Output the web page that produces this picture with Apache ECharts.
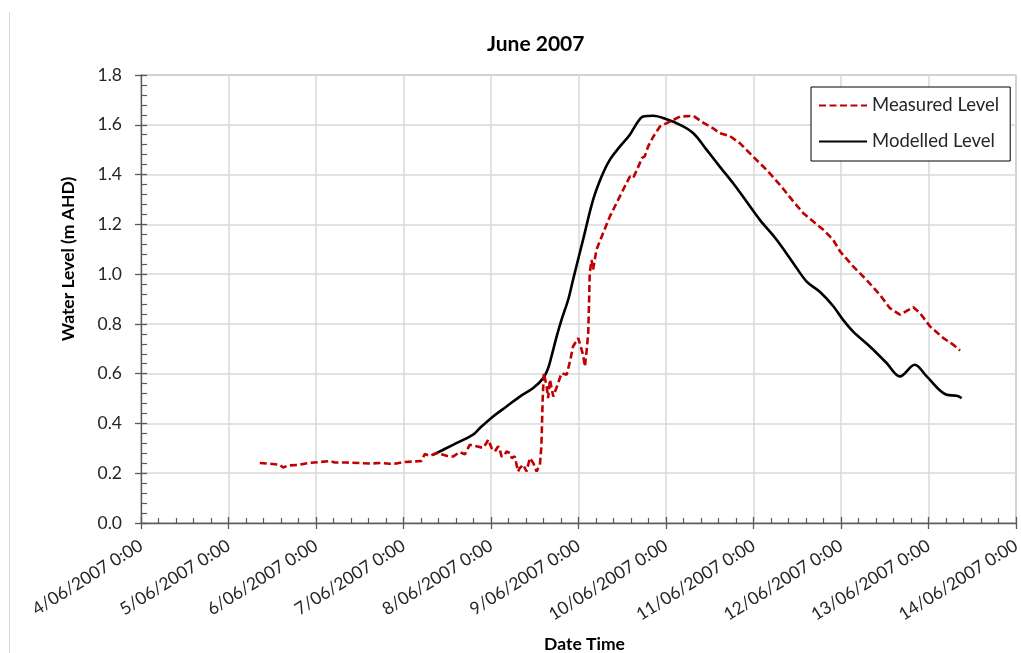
<!DOCTYPE html>
<html>
<head>
<meta charset="utf-8">
<title>June 2007</title>
<script src="https://cdn.jsdelivr.net/npm/echarts@6/dist/echarts.min.js"></script>
<style>
  html, body { margin: 0; padding: 0; background: #fff; }
  #chart { width: 1021px; height: 653px; }
</style>
</head>
<body>
<div id="chart"></div>
<script>
// Gauge record, June 2007 flood event
const chartTitle = 'June 2007';
const seriesNames = ['Measured Level', 'Modelled Level'];

// Measured water level (m AHD), logged times
const measuredTimes = [
  '2007-06-05 08:35', '2007-06-05 11:20', '2007-06-05 14:00', '2007-06-05 15:00', '2007-06-05 16:20',
  '2007-06-05 19:30', '2007-06-05 21:50', '2007-06-06 01:00', '2007-06-06 03:45', '2007-06-06 05:10',
  '2007-06-06 08:20', '2007-06-06 12:00', '2007-06-06 14:45', '2007-06-06 17:30', '2007-06-06 20:15',
  '2007-06-06 22:05', '2007-06-06 23:55', '2007-06-07 02:40', '2007-06-07 04:55', '2007-06-07 05:50',
  '2007-06-07 07:15', '2007-06-07 09:05', '2007-06-07 11:50', '2007-06-07 13:35', '2007-06-07 15:25',
  '2007-06-07 16:50', '2007-06-07 18:10', '2007-06-07 20:00', '2007-06-07 21:50', '2007-06-07 22:45',
  '2007-06-07 23:15', '2007-06-07 23:40', '2007-06-08 00:10', '2007-06-08 00:35', '2007-06-08 01:05',
  '2007-06-08 02:00', '2007-06-08 02:25', '2007-06-08 02:55', '2007-06-08 03:50', '2007-06-08 04:15',
  '2007-06-08 05:10', '2007-06-08 05:40', '2007-06-08 06:05', '2007-06-08 06:30', '2007-06-08 07:25',
  '2007-06-08 07:55', '2007-06-08 08:50', '2007-06-08 09:15', '2007-06-08 09:45', '2007-06-08 10:40',
  '2007-06-08 11:05', '2007-06-08 11:35', '2007-06-08 12:00', '2007-06-08 12:30', '2007-06-08 12:55',
  '2007-06-08 13:25', '2007-06-08 13:50', '2007-06-08 14:10', '2007-06-08 14:30', '2007-06-08 15:15',
  '2007-06-08 15:40', '2007-06-08 16:10', '2007-06-08 17:05', '2007-06-08 18:25', '2007-06-08 19:20',
  '2007-06-08 20:45', '2007-06-08 21:40', '2007-06-08 22:30', '2007-06-08 23:55', '2007-06-09 00:20',
  '2007-06-09 01:15', '2007-06-09 01:45', '2007-06-09 02:15', '2007-06-09 02:40', '2007-06-09 02:55',
  '2007-06-09 03:05', '2007-06-09 03:35', '2007-06-09 04:00', '2007-06-09 04:55', '2007-06-09 06:45',
  '2007-06-09 08:35', '2007-06-09 10:25', '2007-06-09 12:15', '2007-06-09 14:05', '2007-06-09 15:00',
  '2007-06-09 16:50', '2007-06-09 17:20', '2007-06-09 18:10', '2007-06-09 19:05', '2007-06-09 20:30',
  '2007-06-09 22:20', '2007-06-10 01:05', '2007-06-10 03:50', '2007-06-10 07:30', '2007-06-10 10:10',
  '2007-06-10 12:55', '2007-06-10 14:45', '2007-06-10 17:30', '2007-06-10 20:15', '2007-06-10 23:55',
  '2007-06-11 03:35', '2007-06-11 07:15', '2007-06-11 10:55', '2007-06-11 13:40', '2007-06-11 16:25',
  '2007-06-11 19:10', '2007-06-11 21:50', '2007-06-11 23:45', '2007-06-12 03:20', '2007-06-12 07:00',
  '2007-06-12 10:40', '2007-06-12 13:25', '2007-06-12 16:10', '2007-06-12 19:50', '2007-06-12 21:40',
  '2007-06-13 00:25', '2007-06-13 04:05', '2007-06-13 06:50', '2007-06-13 08:40'
];
const measuredLevels = [
  0.241, 0.238, 0.234, 0.223, 0.231,
  0.234, 0.241, 0.245, 0.249, 0.243,
  0.243, 0.241, 0.239, 0.241, 0.238,
  0.239, 0.245, 0.247, 0.249, 0.277,
  0.270, 0.281, 0.270, 0.267, 0.285,
  0.276, 0.314, 0.308, 0.302, 0.321,
  0.335, 0.341, 0.301, 0.294, 0.288,
  0.308, 0.294, 0.267, 0.274, 0.288,
  0.281, 0.261, 0.254, 0.268, 0.207,
  0.221, 0.234, 0.241, 0.207, 0.261,
  0.267, 0.241, 0.227, 0.207, 0.214,
  0.234, 0.310, 0.495, 0.602, 0.549,
  0.502, 0.576, 0.508, 0.562, 0.602,
  0.596, 0.649, 0.709, 0.743, 0.723,
  0.676, 0.629, 0.696, 0.763, 0.900,
  1.004, 1.057, 1.018, 1.098, 1.165,
  1.231, 1.285, 1.339, 1.392, 1.386,
  1.446, 1.466, 1.473, 1.512, 1.552,
  1.593, 1.613, 1.633, 1.636, 1.609,
  1.586, 1.566, 1.555, 1.526, 1.472,
  1.419, 1.359, 1.292, 1.245, 1.211,
  1.178, 1.138, 1.091, 1.031, 0.977,
  0.917, 0.863, 0.837, 0.867, 0.843,
  0.790, 0.743, 0.716, 0.693
];

// Modelled water level (m AHD), model output times
const modelledTimes = [
  '2007-06-07 08:05', '2007-06-07 13:35', '2007-06-07 19:05', '2007-06-07 20:55', '2007-06-08 00:35',
  '2007-06-08 04:15', '2007-06-08 07:55', '2007-06-08 11:35', '2007-06-08 14:20', '2007-06-08 15:40',
  '2007-06-08 16:35', '2007-06-08 18:00', '2007-06-08 19:20', '2007-06-08 21:10', '2007-06-08 22:30',
  '2007-06-09 01:15', '2007-06-09 04:00', '2007-06-09 06:20', '2007-06-09 08:35', '2007-06-09 11:20',
  '2007-06-09 14:05', '2007-06-09 16:20', '2007-06-09 17:45', '2007-06-09 20:30', '2007-06-10 00:10',
  '2007-06-10 03:50', '2007-06-10 07:30', '2007-06-10 11:10', '2007-06-10 14:45', '2007-06-10 18:25',
  '2007-06-10 22:05', '2007-06-11 01:45', '2007-06-11 06:20', '2007-06-11 10:55', '2007-06-11 14:35',
  '2007-06-11 18:15', '2007-06-11 21:50', '2007-06-12 00:35', '2007-06-12 03:20', '2007-06-12 07:55',
  '2007-06-12 12:30', '2007-06-12 16:10', '2007-06-12 20:15', '2007-06-12 23:30', '2007-06-13 05:00',
  '2007-06-13 07:45', '2007-06-13 09:05'
];
const modelledLevels = [
  0.274, 0.314, 0.355, 0.381, 0.428,
  0.468, 0.508, 0.542, 0.582, 0.622,
  0.669, 0.749, 0.816, 0.897, 0.977,
  1.138, 1.298, 1.392, 1.459, 1.512,
  1.560, 1.613, 1.633, 1.636, 1.622,
  1.600, 1.566, 1.499, 1.432, 1.365,
  1.292, 1.218, 1.138, 1.044, 0.970,
  0.928, 0.872, 0.816, 0.769, 0.709,
  0.643, 0.589, 0.636, 0.589, 0.515,
  0.511, 0.502
];

// Axis ranges
const xStart = '2007-06-04 00:00';
const xEnd = '2007-06-14 00:00';
const yMin = 0, yMax = 1.8, yStep = 0.2;

const DAY = 86400000;
function toMs(s) {
  const [d, t] = s.split(' ');
  const [Y, M, D] = d.split('-').map(Number);
  const [h, m] = t.split(':').map(Number);
  return Date.UTC(Y, M - 1, D, h, m);
}
function fmtDate(v) {
  const d = new Date(v);
  const mm = String(d.getUTCMonth() + 1).padStart(2, '0');
  const min = String(d.getUTCMinutes()).padStart(2, '0');
  return d.getUTCDate() + '/' + mm + '/' + d.getUTCFullYear() + ' ' + d.getUTCHours() + ':' + min;
}
const pair = (times, vals) => times.map((t, i) => [toMs(t), vals[i]]);

const FONT = 'Lato, "Open Sans", sans-serif';
const AXIS_COLOR = '#595959';
const GRID_COLOR = '#d9d9d9';
const TEXT_COLOR = '#262626';

const chart = echarts.init(document.getElementById('chart'), null, { renderer: 'canvas' });

const xMin = toMs(xStart), xMax = toMs(xEnd);

chart.setOption({
  animation: false,
  backgroundColor: '#fff',
  textStyle: { fontFamily: FONT },
  title: {
    text: chartTitle,
    left: 482,
    top: 29,
    textStyle: { fontFamily: FONT, fontSize: 21, fontWeight: 'bold', color: '#000' }
  },
  graphic: [{
    type: 'line',
    shape: { x1: 9.5, y1: 12, x2: 9.5, y2: 653 },
    style: { stroke: '#d9d9d9', lineWidth: 1 },
    silent: true
  }],
  legend: {
    orient: 'vertical',
    left: 811,
    top: 87,
    padding: [9, 11, 10, 7],
    itemGap: 17,
    itemWidth: 48,
    itemHeight: 14,
    backgroundColor: '#fff',
    borderColor: '#000',
    borderWidth: 1,
    itemStyle: { color: 'rgba(0,0,0,0)', borderWidth: 0, opacity: 0 },
    textStyle: { fontFamily: FONT, fontSize: 18.5, color: TEXT_COLOR },
    data: seriesNames
  },
  grid: {
    left: 141, right: 5, top: 75, bottom: 130,
    outerBoundsMode: 'none',
    containLabel: false,
    show: true, borderColor: '#808080', borderWidth: 1
  },
  xAxis: [{
    type: 'value',
    min: xMin, max: xMax, interval: DAY,
    name: 'Date Time',
    nameLocation: 'middle',
    nameGap: 112,
    nameTextStyle: { fontFamily: FONT, fontSize: 17.5, fontWeight: 'bold', color: '#000', padding: [0, 0, 0, 12] },
    axisLine: { show: true, onZero: false, lineStyle: { color: AXIS_COLOR, width: 1.3 } },
    axisTick: { show: true, inside: false, length: 6, lineStyle: { color: AXIS_COLOR, width: 1.3 } },
    axisLabel: {
      rotate: 32, margin: 21, formatter: fmtDate,
      fontFamily: FONT, fontSize: 17.5, color: TEXT_COLOR
    },
    splitLine: { show: true, lineStyle: { color: GRID_COLOR, width: 1.5 } }
  }, {
    // inner half of the major ticks plus the minor ticks
    type: 'value', position: 'bottom', offset: 0,
    min: xMin, max: xMax, interval: DAY,
    axisLine: { show: false },
    axisTick: { show: true, inside: true, length: 6, lineStyle: { color: AXIS_COLOR, width: 1.3 } },
    minorTick: { show: true, splitNumber: 5, length: 5, lineStyle: { color: AXIS_COLOR, width: 1.2 } },
    axisLabel: { show: false },
    splitLine: { show: false }
  }],
  yAxis: [{
    type: 'value',
    min: yMin, max: yMax, interval: yStep,
    name: 'Water Level (m AHD)',
    nameLocation: 'middle',
    nameGap: 64,
    nameTextStyle: { fontFamily: FONT, fontSize: 17.5, fontWeight: 'bold', color: '#000', padding: [0, 0, 0, 80] },
    axisLine: { show: true, onZero: false, lineStyle: { color: AXIS_COLOR, width: 1.3 } },
    axisTick: { show: true, inside: false, length: 6, lineStyle: { color: AXIS_COLOR, width: 1.3 } },
    axisLabel: {
      margin: 19, formatter: v => v.toFixed(1),
      fontFamily: FONT, fontSize: 17.5, color: TEXT_COLOR
    },
    splitLine: { show: true, lineStyle: { color: GRID_COLOR, width: 1.5 } }
  }, {
    type: 'value', position: 'left', offset: 0,
    min: yMin, max: yMax, interval: yStep,
    axisLine: { show: false },
    axisTick: { show: true, inside: true, length: 6, lineStyle: { color: AXIS_COLOR, width: 1.3 } },
    minorTick: { show: true, splitNumber: 5, length: 6, lineStyle: { color: AXIS_COLOR, width: 1.2 } },
    axisLabel: { show: false },
    splitLine: { show: false }
  }],
  series: [{
    name: seriesNames[0],
    type: 'line',
    xAxisIndex: 0, yAxisIndex: 0,
    data: pair(measuredTimes, measuredLevels),
    symbol: 'none',
    showSymbol: false,
    z: 3,
    lineStyle: { color: '#C00000', width: 2.6, type: [7, 3.5] },
    itemStyle: { color: '#C00000' }
  }, {
    name: seriesNames[1],
    type: 'line',
    xAxisIndex: 0, yAxisIndex: 0,
    data: pair(modelledTimes, modelledLevels),
    symbol: 'none',
    showSymbol: false,
    smooth: 0.35,
    z: 2,
    lineStyle: { color: '#000', width: 2.6 },
    itemStyle: { color: '#000' }
  }]
});
</script>
</body>
</html>
